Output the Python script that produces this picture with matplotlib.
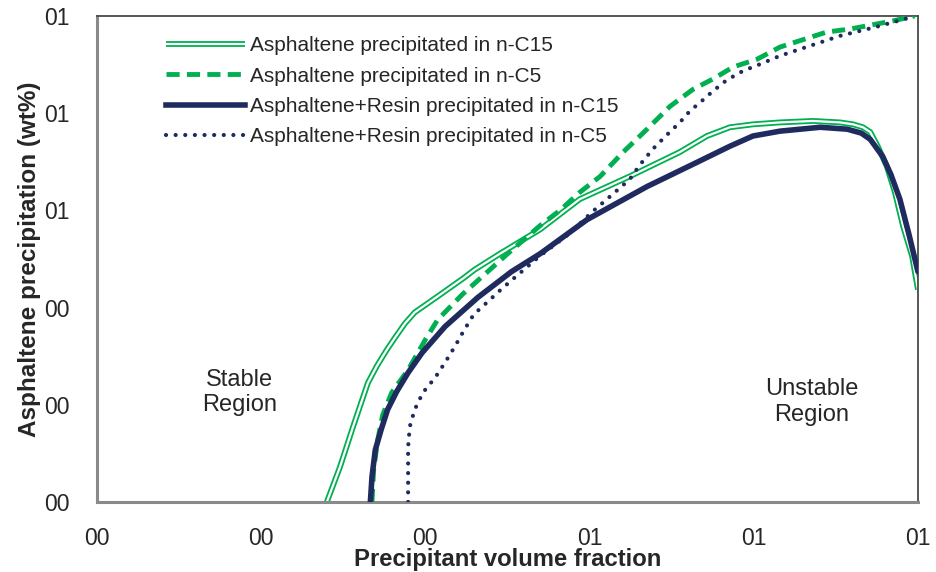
import matplotlib
matplotlib.use("Agg")
import matplotlib.pyplot as plt
from matplotlib.lines import Line2D
from matplotlib.ticker import FuncFormatter, MultipleLocator

plt.rcParams["font.family"] = ["Liberation Sans", "DejaVu Sans"]

OUTPUT_FIG = "out.png"

GREEN = "#00B050"
NAVY = "#1F2A5E"
TEXT = "#262626"

# Asphaltene precipitated in n-C15 (double green line)
asph_c15_x = [0.280, 0.296, 0.312, 0.330, 0.341, 0.353, 0.363, 0.375, 0.387, 0.415,
              0.446, 0.460, 0.491, 0.540, 0.588, 0.649, 0.710, 0.743, 0.771, 0.799,
              0.832, 0.872, 0.905, 0.921, 0.933, 0.942, 0.951, 0.962, 0.972, 0.982,
              0.993, 1.000]
asph_c15_y = [0.000, 0.072, 0.155, 0.245, 0.280, 0.313, 0.338, 0.367, 0.390, 0.423,
              0.460, 0.478, 0.511, 0.561, 0.623, 0.670, 0.720, 0.753, 0.771, 0.777,
              0.781, 0.784, 0.781, 0.777, 0.771, 0.761, 0.732, 0.691, 0.637, 0.567,
              0.505, 0.437]

# Asphaltene precipitated in n-C5 (dashed green)
asph_c5_x = [0.335, 0.337, 0.342, 0.348, 0.359, 0.379, 0.400, 0.415, 0.445, 0.476,
             0.499, 0.540, 0.564, 0.588, 0.613, 0.641, 0.670, 0.698, 0.726, 0.750,
             0.775, 0.804, 0.832, 0.889, 0.917, 0.970, 0.996]
asph_c5_y = [0.000, 0.066, 0.128, 0.179, 0.225, 0.272, 0.334, 0.375, 0.427, 0.474,
             0.509, 0.569, 0.600, 0.637, 0.670, 0.720, 0.767, 0.814, 0.849, 0.870,
             0.895, 0.911, 0.936, 0.967, 0.973, 0.990, 1.000]

# Asphaltene+Resin precipitated in n-C15 (solid navy)
ar_c15_x = [0.333, 0.335, 0.339, 0.346, 0.354, 0.365, 0.379, 0.396, 0.424, 0.464,
            0.505, 0.540, 0.597, 0.670, 0.731, 0.771, 0.799, 0.832, 0.881, 0.914,
            0.931, 0.942, 0.957, 0.967, 0.978, 0.989, 1.000]
ar_c15_y = [0.000, 0.052, 0.107, 0.148, 0.190, 0.227, 0.266, 0.307, 0.361, 0.421,
            0.474, 0.511, 0.581, 0.649, 0.699, 0.732, 0.753, 0.763, 0.771, 0.767,
            0.759, 0.746, 0.711, 0.674, 0.623, 0.551, 0.474]

# Asphaltene+Resin precipitated in n-C5 (dotted navy)
ar_c5_x = [0.379, 0.379, 0.379, 0.381, 0.387, 0.397, 0.412, 0.424, 0.436, 0.447,
           0.459, 0.476, 0.492, 0.509, 0.540, 0.576, 0.604, 0.628, 0.649, 0.661,
           0.677, 0.694, 0.710, 0.722, 0.738, 0.750, 0.767, 0.787, 0.808, 0.832,
           0.905, 0.948, 0.993]
ar_c5_y = [0.000, 0.060, 0.113, 0.155, 0.190, 0.225, 0.256, 0.287, 0.320, 0.353,
           0.386, 0.412, 0.437, 0.462, 0.507, 0.553, 0.598, 0.633, 0.664, 0.693,
           0.726, 0.755, 0.781, 0.804, 0.827, 0.845, 0.868, 0.887, 0.901, 0.918,
           0.959, 0.977, 0.998]


def main():
    fig = plt.figure(figsize=(9.36, 5.72), dpi=100)
    ax = fig.add_axes([0.1036, 0.1224, 0.8771, 0.8497])

    # double line: thick green with a thin white core
    ax.plot(asph_c15_x, asph_c15_y, color=GREEN, lw=4.2, solid_capstyle="butt",
            solid_joinstyle="round", zorder=2)
    ax.plot(asph_c15_x, asph_c15_y, color="white", lw=1.6, solid_capstyle="butt",
            solid_joinstyle="round", zorder=2.1)

    ax.plot(asph_c5_x, asph_c5_y, color=GREEN, lw=3.5, linestyle=(0, (2.7, 1.5)),
            dash_capstyle="butt", zorder=3)
    ax.plot(ar_c15_x, ar_c15_y, color=NAVY, lw=4.0, solid_capstyle="round",
            solid_joinstyle="round", zorder=4)
    ax.plot(ar_c5_x, ar_c5_y, color=NAVY, lw=3.0, linestyle=(0, (0.01, 2.3)),
            dash_capstyle="round", zorder=5)

    ax.set_xlim(0, 1)
    ax.set_ylim(0, 1)
    ax.xaxis.set_major_locator(MultipleLocator(0.2))
    ax.yaxis.set_major_locator(MultipleLocator(0.2))
    fmt = FuncFormatter(lambda v, pos: f"{v:02.0f}")
    ax.xaxis.set_major_formatter(fmt)
    ax.yaxis.set_major_formatter(fmt)
    ax.tick_params(axis="both", length=0, labelsize=16.5, colors=TEXT)
    ax.tick_params(axis="x", pad=18)
    ax.tick_params(axis="y", pad=20)

    for side in ("left", "bottom"):
        ax.spines[side].set_color("#8a8a8a")
        ax.spines[side].set_linewidth(2.2)
    for side in ("top", "right"):
        ax.spines[side].set_color("#4a4a4a")
        ax.spines[side].set_linewidth(1.3)

    ax.set_xlabel("Precipitant volume fraction", fontsize=17.2, fontweight="bold",
                  color=TEXT, labelpad=-1.5)
    ax.set_ylabel("Asphaltene precipitation (wt%)", fontsize=17.5, fontweight="bold",
                  color=TEXT, labelpad=2)

    ax.text(0.174, 0.225, "Stable\nRegion", ha="center", va="center", fontsize=17,
            color=TEXT, linespacing=1.2)
    ax.text(0.871, 0.206, "Unstable\nRegion", ha="center", va="center", fontsize=17,
            color=TEXT, linespacing=1.2)

    h1 = (Line2D([], [], color=GREEN, lw=4.2, solid_capstyle="butt"),
          Line2D([], [], color="white", lw=1.6, solid_capstyle="butt"))
    h2 = Line2D([], [], color=GREEN, lw=3.5, linestyle=(0, (2.7, 1.5)))
    h3 = Line2D([], [], color=NAVY, lw=4.0)
    h4 = Line2D([], [], color=NAVY, lw=3.0, linestyle=(0, (0.01, 2.3)),
                dash_capstyle="round")
    labels = ["Asphaltene precipitated in n-C15",
              "Asphaltene precipitated in n-C5",
              "Asphaltene+Resin precipitated in n-C15",
              "Asphaltene+Resin precipitated in n-C5"]
    leg = ax.legend([h1, h2, h3, h4], labels, loc="upper left",
                    bbox_to_anchor=(0.0735, 0.975), frameon=False, fontsize=15,
                    handlelength=3.8, handletextpad=0.25, labelspacing=0.54,
                    borderaxespad=0)
    for t in leg.get_texts():
        t.set_color(TEXT)

    fig.savefig(OUTPUT_FIG, dpi=100)


if __name__ == "__main__":
    main()
